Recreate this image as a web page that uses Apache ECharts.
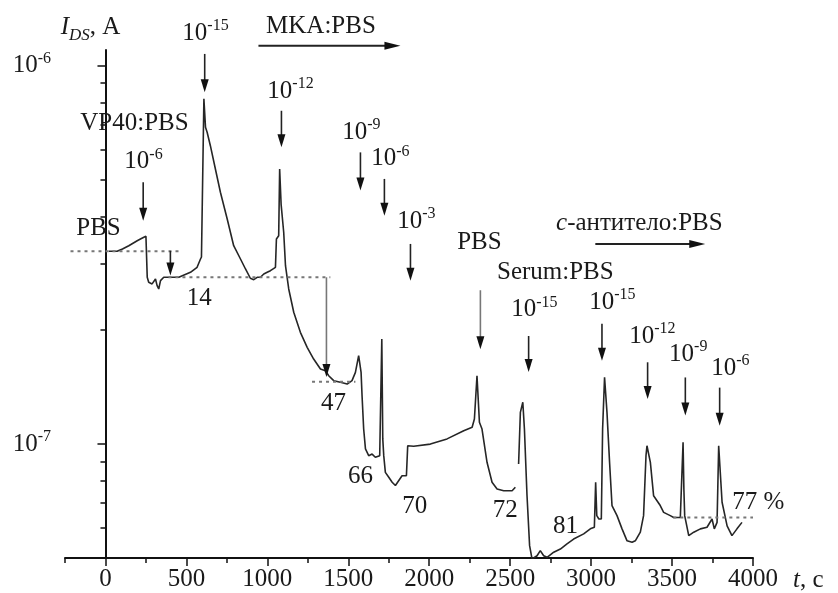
<!DOCTYPE html>
<html><head><meta charset="utf-8">
<script src="https://cdn.jsdelivr.net/npm/echarts@6/dist/echarts.min.js"></script>
<style>html,body{margin:0;padding:0;background:#fff}#c{width:838px;height:593px}</style>
</head><body><div id="c"></div>
<script>
// ---- data (time in s, current in units of 1e-7 A) ----
const timeSeg1 = [20,72,105,144,196,216,237,250,258,267,288,309,319,329,340,360,401,453,525,566,587,593,608,618,628,648,679,710,752,792,834,865,895,916,937,957,978,999,1019,1050,1056,1070,1076,1085,1101,1112,1132,1163,1204,1246,1286,1328,1359,1379,1410,1451,1493,1523,1544,1564,1579,1585,1595,1606,1626,1647,1667,1694,1701,1707,1713,1719,1729,1750,1771,1791,1801,1832,1859,1867,1904,2007,2110,2213,2265,2279,2295,2310,2326,2357,2388,2419,2460,2512,2532];
const currentSeg1 = [3.232,3.232,3.278,3.344,3.447,3.483,3.520,3.54,2.759,2.677,2.650,2.731,2.622,2.570,2.703,2.759,2.759,2.759,2.844,2.932,3.084,3.122,8.17,6.875,6.668,6.145,5.333,4.628,3.934,3.344,3.084,2.902,2.743,2.720,2.759,2.759,2.815,2.844,2.872,2.932,3.483,3.554,5.333,4.3,3.63,2.961,2.570,2.230,1.974,1.802,1.678,1.579,1.563,1.516,1.471,1.456,1.441,1.471,1.547,1.712,1.547,1.342,1.096,0.971,0.932,0.941,0.923,0.932,0.941,1.895,1.032,0.932,0.842,0.817,0.793,0.777,0.785,0.825,0.825,0.990,0.987,1.000,1.032,1.085,1.108,1.165,1.516,1.142,1.096,0.895,0.793,0.761,0.753,0.753,0.769];
const timeSeg2 = [2552,2563,2578,2588,2604,2620,2635,2666,2686,2707,2728,2769,2810,2851,2892,2954,2995,3020,3028,3035,3048,3063,3071,3083,3098,3114,3129,3139,3160,3191,3222,3253,3273,3304,3324,3339,3345,3366,3386,3427,3448,3489,3510,3551,3563,3568,3573,3578,3603,3634,3675,3716,3747,3761,3778,3788,3809,3840,3870,3901,3932];
const currentSeg2 = [0.886,1.213,1.290,1.096,0.731,0.539,0.497,0.507,0.523,0.507,0.502,0.518,0.528,0.545,0.561,0.579,0.597,0.603,0.793,0.647,0.634,0.634,1.096,1.502,1.213,0.895,0.688,0.681,0.647,0.597,0.555,0.550,0.555,0.585,0.647,0.932,0.990,0.895,0.73,0.688,0.660,0.647,0.640,0.640,0.640,1.011,0.761,0.647,0.573,0.585,0.597,0.603,0.634,0.597,0.621,0.990,0.702,0.608,0.573,0.597,0.621];
const CURRENT_UNIT = 1e-7;

// ---- axes ----
const xMajorTicks = [0,500,1000,1500,2000,2500,3000,3500,4000];
const yMajorTicks = [1e-7, 1e-6];
const yMinorTicks = [5e-8,6e-8,7e-8,8e-8,9e-8,2e-7,3e-7,4e-7,5e-7,6e-7,7e-7,8e-7,9e-7];

// ---- annotations (data coordinates) ----
const arrowX    = [233, 613, 1087, 1575, 1723, 1884, 2614, 3067, 3349, 3582, 3794, 401];
const arrowFrom = [4.92e-7, 1.074e-6, 7.60e-7, 5.90e-7, 5.02e-7, 3.38e-7, 1.93e-7, 2.08e-7, 1.645e-7, 1.50e-7, 1.41e-7, 3.24e-7];
const arrowTo   = [3.89e-7, 8.51e-7, 6.09e-7, 4.68e-7, 4.01e-7, 2.70e-7, 1.55e-7, 1.66e-7, 1.316e-7, 1.19e-7, 1.118e-7, 2.79e-7];
const grayArrowX    = [2316, 1365];
const grayArrowFrom = [2.55e-7, 2.759e-7];
const grayArrowTo   = [1.78e-7, 1.504e-7];

const concExp = ['-6','-15','-12','-9','-6','-3','-15','-15','-12','-9','-6'];
const concX   = [235, 618, 1143, 1581, 1760, 1921, 2649, 3131, 3378, 3600, 3860];
const concY   = [5.57e-7, 1.22e-6, 8.57e-7, 6.68e-7, 5.67e-7, 3.884e-7, 2.262e-7, 2.374e-7, 1.931e-7, 1.730e-7, 1.589e-7];

const noteText = ['PBS','VP40:PBS','14','47','66','70','PBS','Serum:PBS','72','81'];
const noteX    = [-43, 179, 580, 1408, 1575, 1911, 2310, 2779, 2470, 2841];
const noteY    = [3.725e-7, 7.056e-7, 2.432e-7, 1.284e-7, 0.8236e-7, 0.686e-7, 3.42e-7, 2.849e-7, 0.6695e-7, 0.6075e-7];

const dashFrom = [-216, 389, 1276, 3508];
const dashTo   = [463, 1389, 1544, 4000];
const dashY    = [3.232e-7, 2.759e-7, 1.462e-7, 6.40e-8];

const flowText = ['MKA:PBS', '{it|c}-антитело:PBS'];
const flowTextX = [1331, 3298];
const flowTextY = [1.266e-6, 3.836e-7];
const flowArrowFrom = [945, 3026];
const flowArrowTo = [1822, 3705];
const flowArrowY = [1.129e-6, 3.379e-7];

const percentText = '77 %';
const percentX = 3872, percentY = 0.7031e-7;

// ---- chart ----
const FONT = 'Liberation Serif';
const INK = '#1a1a1a';
const seg1 = timeSeg1.map((t, i) => [t, currentSeg1[i] * CURRENT_UNIT]);
const seg2 = timeSeg2.map((t, i) => [t, currentSeg2[i] * CURRENT_UNIT]);

const chart = echarts.init(document.getElementById('c'), null, {renderer: 'canvas'});
const lineStyle = {color: '#262626', width: 1.6};
const axisLineStyle = {color: '#111', width: 2};

chart.setOption({
  animation: false,
  backgroundColor: '#fff',
  grid: {left: 65, right: 85, top: 50, bottom: 34},
  xAxis: [{
    type: 'value', min: -250, max: 4000,
    axisLine: {lineStyle: axisLineStyle, onZero: false},
    axisTick: {show: true, length: 8, lineStyle: {color: '#111', width: 1.5}, customValues: xMajorTicks},
    axisLabel: {customValues: xMajorTicks, formatter: v => String(v), fontFamily: FONT, fontSize: 25, color: INK, margin: 9},
    splitLine: {show: false},
    name: '{it|t}, c', nameLocation: 'end', nameGap: 40,
    nameTextStyle: {fontFamily: FONT, fontSize: 25, color: INK, verticalAlign: 'top', padding: [10, 0, 0, 0],
      rich: {it: {fontStyle: 'italic', fontFamily: FONT, fontSize: 25, color: INK}}}
  }, {
    type: 'value', min: -250, max: 4000, interval: 250, position: 'bottom', offset: 0,
    axisLine: {show: false},
    axisTick: {show: true, length: 5, lineStyle: {color: '#111', width: 1.5}},
    axisLabel: {show: false}, splitLine: {show: false}
  }],
  yAxis: [{
    type: 'log', logBase: 10, min: 5e-8, max: 1.1e-6, position: 'left', offset: 0,
    axisLine: {show: true, lineStyle: axisLineStyle},
    axisTick: {show: true, length: 8, lineStyle: {color: '#111', width: 1.5}, customValues: yMajorTicks},
    axisLabel: {
      customValues: yMajorTicks, margin: 14,
      formatter: v => '{b|10}{s|' + Math.round(Math.log10(v)) + '}',
      rich: {
        b: {fontFamily: FONT, fontSize: 25, color: INK, lineHeight: 30, verticalAlign: 'middle'},
        s: {fontFamily: FONT, fontSize: 16, color: INK, lineHeight: 16, verticalAlign: 'top'}
      }
    },
    splitLine: {show: false},
    name: '{i|I}{sub|DS}{n|, A}', nameLocation: 'end', nameGap: 6,
    nameTextStyle: {align: 'center', padding: [0, 30, 0, 0],
      rich: {
        i: {fontFamily: FONT, fontStyle: 'italic', fontSize: 25, color: INK, lineHeight: 34, verticalAlign: 'middle'},
        sub: {fontFamily: FONT, fontStyle: 'italic', fontSize: 17, color: INK, lineHeight: 17, verticalAlign: 'bottom'},
        n: {fontFamily: FONT, fontSize: 25, color: INK, lineHeight: 34, verticalAlign: 'middle'}
      }}
  }, {
    type: 'log', logBase: 10, min: 5e-8, max: 1.1e-6, position: 'left', offset: 0,
    axisLine: {show: false},
    axisTick: {show: true, length: 5, lineStyle: {color: '#111', width: 1.5}, customValues: yMinorTicks},
    axisLabel: {show: false}, splitLine: {show: false}
  }],
  series: [
    {type: 'line', data: seg1, showSymbol: false, symbol: 'none', lineStyle, clip: true, xAxisIndex: 0, yAxisIndex: 0},
    {type: 'line', data: seg2, showSymbol: false, symbol: 'none', lineStyle, clip: true, xAxisIndex: 0, yAxisIndex: 0}
  ]
});

// ---- annotation graphics placed via the chart's own scales ----
const P = (x, y) => chart.convertToPixel({xAxisIndex: 0, yAxisIndex: 0}, [x, y]);
const els = [];
const RICH = {
  b: {fontFamily: FONT, fontSize: 25, fill: INK, lineHeight: 30, verticalAlign: 'middle'},
  s: {fontFamily: FONT, fontSize: 16, fill: INK, lineHeight: 16, verticalAlign: 'top'},
  it: {fontFamily: FONT, fontStyle: 'italic', fontSize: 25, fill: INK}
};
function addText(text, x, y, align) {
  const p = P(x, y);
  els.push({type: 'text', x: p[0], y: p[1], z: 20, silent: true,
    style: {text, fontFamily: FONT, fontSize: 25, fill: INK, align: align || 'center', verticalAlign: 'middle', rich: RICH}});
}
function addVArrow(x, y1, y2, color) {
  const a = P(x, y1), b = P(x, y2);
  els.push({type: 'line', z: 15, silent: true, shape: {x1: a[0], y1: a[1], x2: b[0], y2: b[1] - 8}, style: {stroke: color, lineWidth: 1.6}});
  els.push({type: 'polygon', z: 15, silent: true, shape: {points: [[b[0] - 4, b[1] - 13], [b[0] + 4, b[1] - 13], [b[0], b[1]]]}, style: {fill: '#111'}});
}
function addHArrow(x1, x2, y) {
  const a = P(x1, y), b = P(x2, y);
  els.push({type: 'line', z: 15, silent: true, shape: {x1: a[0], y1: a[1], x2: b[0] - 10, y2: b[1]}, style: {stroke: '#222', lineWidth: 2}});
  els.push({type: 'polygon', z: 15, silent: true, shape: {points: [[b[0] - 16, b[1] - 4], [b[0] - 16, b[1] + 4], [b[0], b[1]]]}, style: {fill: '#111'}});
}
function addDash(x1, x2, y) {
  const a = P(x1, y), b = P(x2, y);
  els.push({type: 'line', z: 12, silent: true, shape: {x1: a[0], y1: a[1], x2: b[0], y2: b[1]}, style: {stroke: '#777', lineWidth: 2, lineDash: [3, 4]}});
}

arrowX.forEach((x, i) => addVArrow(x, arrowFrom[i], arrowTo[i], '#222'));
grayArrowX.forEach((x, i) => addVArrow(x, grayArrowFrom[i], grayArrowTo[i], '#777'));
dashFrom.forEach((x, i) => addDash(x, dashTo[i], dashY[i]));
concExp.forEach((e, i) => addText('{b|10}{s|' + e + '}', concX[i], concY[i]));
noteText.forEach((t, i) => addText(t, noteX[i], noteY[i]));
flowText.forEach((t, i) => addText(t, flowTextX[i], flowTextY[i]));
flowArrowFrom.forEach((x, i) => addHArrow(x, flowArrowTo[i], flowArrowY[i]));
addText(percentText, percentX, percentY, 'left');

chart.setOption({graphic: {elements: els}});
</script>
</body></html>
